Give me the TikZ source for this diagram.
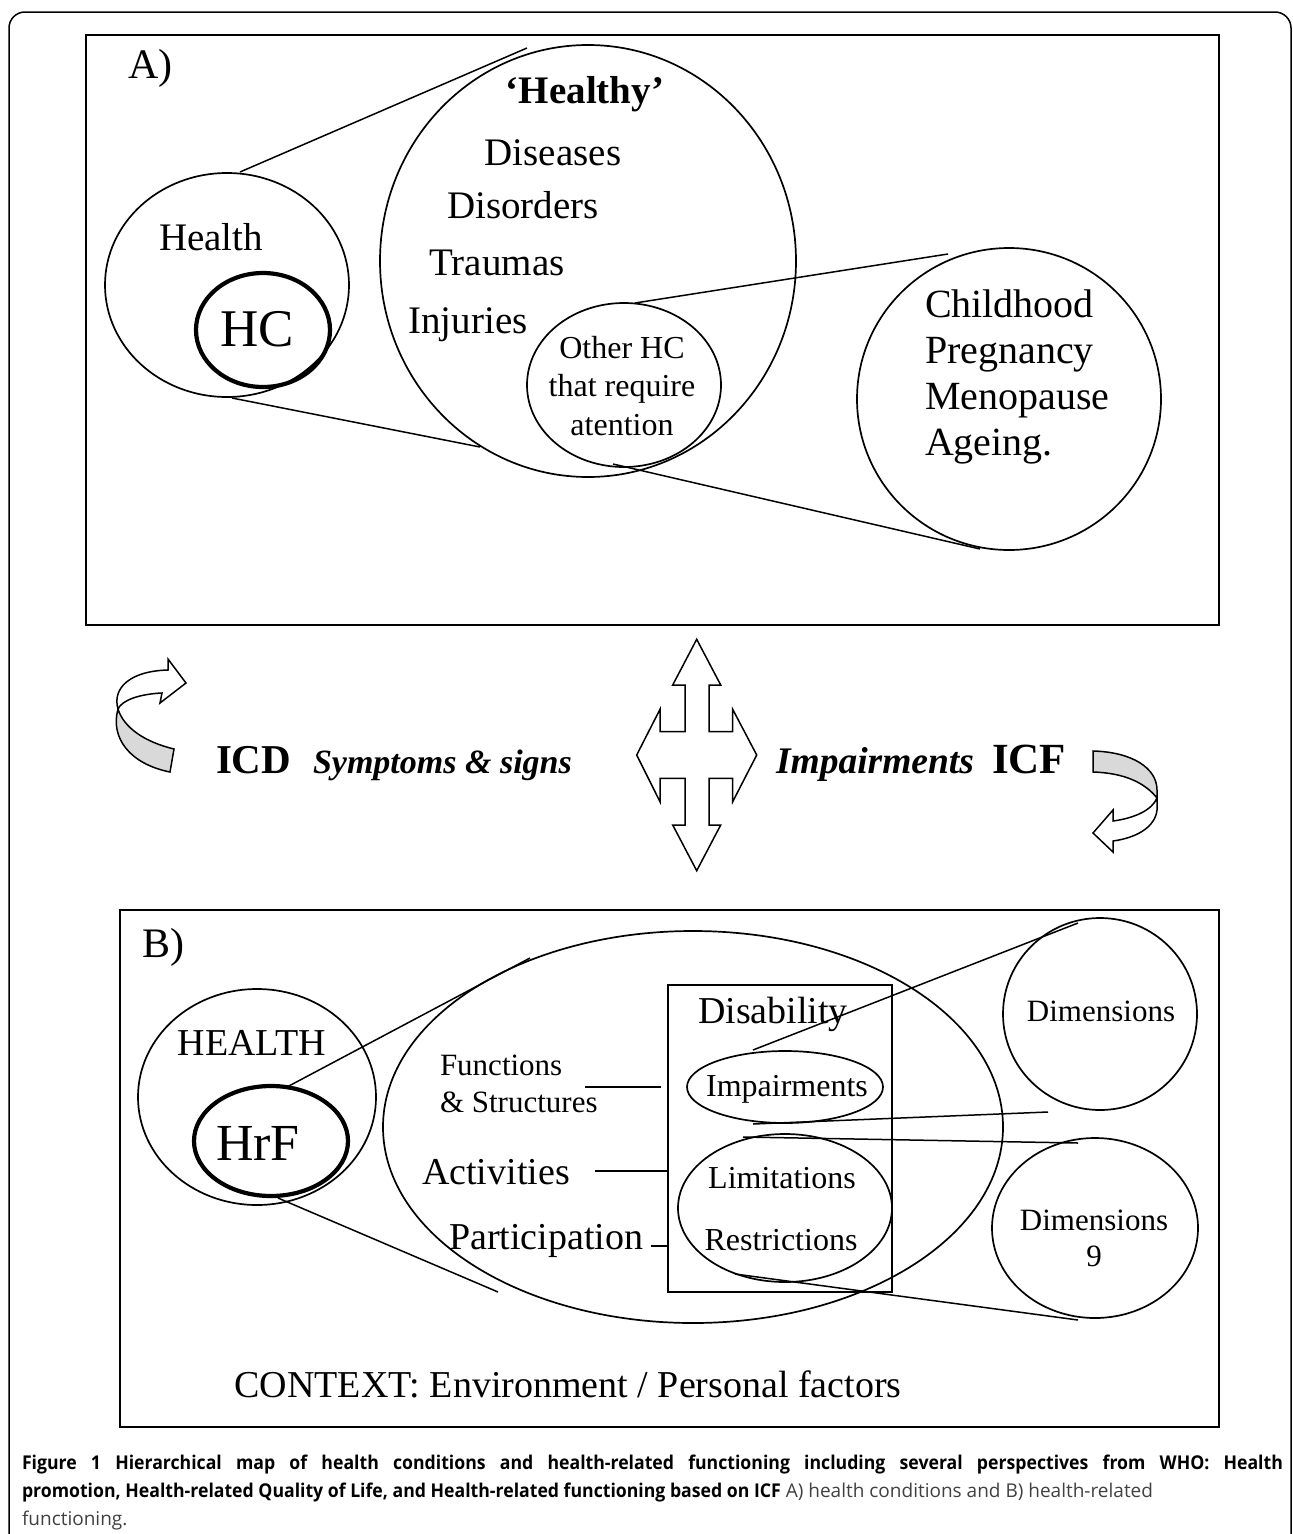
\documentclass[tikz,border=0pt]{standalone}
\usepackage{fontspec}
\setmainfont{Liberation Serif}
\newfontfamily\capfont[BoldFeatures={FakeStretch=0.93}]{Open Sans}
\usetikzlibrary{shapes.geometric}
\newcommand{\fs}[1]{\fontsize{#1}{#1}\selectfont}
\tikzset{
  txt/.style={inner sep=0pt, outer sep=0pt, anchor=base},
  txtl/.style={inner sep=0pt, outer sep=0pt, anchor=base west},
  ring/.style={draw, ellipse, inner sep=0pt, outer sep=0pt, line width=1.7pt},
  thickring/.style={ring, line width=4.2pt},
  conn/.style={line width=1.5pt},
  panel/.style={draw, line width=2.6pt},
  arrowpart/.style={draw, line width=1.5pt, line join=miter},
  capline/.style={txtl, font=\capfont\fontsize{19}{19}\selectfont},
}
\begin{document}
\begin{tikzpicture}[x=1pt, y=-1pt]
\useasboundingbox (0,0) rectangle (1293,1534);
% outer frame
\begin{scope}
\clip (0,0) rectangle (1293,1534);
\draw[line width=1.5pt, rounded corners=16pt] (9,1560) -- (9,12) -- (1291,12) -- (1291,1560);
\end{scope}

% ===== Panel A =====
\draw[panel] (86,35) rectangle (1219,625);
\node[txtl, font=\fs{42}] (labA) at (128,78) {A)};

\node[ring, minimum width=244pt, minimum height=224pt] (health) at (227,285) {};
\node[thickring, minimum width=134pt, minimum height=114pt] (hc) at (263,330) {};
\node[ring, minimum width=416pt, minimum height=432pt] (healthy) at (588,261) {};
\node[ring, minimum width=194pt, minimum height=164pt] (other) at (624,385) {};
\node[ring, minimum width=304pt, minimum height=302pt] (life) at (1009,399) {};

\node[txt, font=\fs{39}] (thealth) at (211,250) {Health};
\node[txt, font=\fs{53}] (thc) at (257,346) {HC};
\node[txt, font=\fs{39}\bfseries] (thealthy) at (585,103) {‘Healthy’};
\node[txt, font=\fs{39}] (tdis) at (553,165) {Diseases};
\node[txt, font=\fs{39}] (tdisord) at (523,218) {Disorders};
\node[txt, font=\fs{39}] (ttrau) at (497,275) {Traumas};
\node[txt, font=\fs{39}] (tinj) at (468,333) {Injuries};
\node[txt, font=\fs{32}] (toth1) at (622,358) {Other HC};
\node[txt, font=\fs{32}] (toth2) at (622,396) {that require};
\node[txt, font=\fs{32}] (toth3) at (622,435) {atention};
\node[txtl, font=\fs{40}] (tch) at (925,317) {Childhood};
\node[txtl, font=\fs{40}] (tpr) at (925,363) {Pregnancy};
\node[txtl, font=\fs{40}] (tme) at (925,409) {Menopause};
\node[txtl, font=\fs{40}] (tag) at (925,455) {Ageing.};

\coordinate (a1s) at (240,172);
\coordinate (a1e) at (527,48);
\coordinate (a2s) at (232,398);
\coordinate (a2e) at (480,447);
\coordinate (a3s) at (635,303);
\coordinate (a3e) at (948,254);
\coordinate (a4s) at (613,464);
\coordinate (a4e) at (980,549);
\draw[conn] (a1s) -- (a1e);
\draw[conn] (a2s) -- (a2e);
\draw[conn] (a3s) -- (a3e);
\draw[conn] (a4s) -- (a4e);

% ===== Middle =====
% left curved arrow
\draw[arrowpart, fill=black!15] (118,709) .. controls (110,738) and (130,764) .. (170,772) -- (174,749) .. controls (145,742) and (124,728) .. (118,709) -- cycle;
\draw[arrowpart, fill=white] (118,709) .. controls (112,688) and (130,671) .. (168,670) -- (168,659) -- (186,683) -- (160,703) -- (162,693) .. controls (140,694) and (122,700) .. (118,709) -- cycle;
% right curved arrow
\draw[arrowpart, fill=black!15] (1093,751) .. controls (1132,752) and (1157,768) .. (1157,790) -- (1157,798) .. controls (1145,783) and (1125,773) .. (1093,772) -- cycle;
\draw[arrowpart, fill=white] (1157,798) -- (1157,810) .. controls (1155,828) and (1135,838) .. (1113,841) -- (1113,852) -- (1093,833) -- (1113,810) -- (1113,821) .. controls (1135,818) and (1152,810) .. (1157,798) -- cycle;
% four-way arrow
\draw[arrowpart, fill=white] (696.7,639.3) -- (720.7,685) -- (709,685) -- (709,731.7) -- (732.7,731.7) -- (732.7,709.3) -- (756.7,755) -- (732.7,801.7) -- (732.7,778.3) -- (709,778.3) -- (709,825) -- (720.7,825) -- (696.7,870.7) -- (672.7,825) -- (685,825) -- (685,778.3) -- (660,778.3) -- (660,801.7) -- (636.7,755) -- (660,709.3) -- (660,731.7) -- (685,731.7) -- (685,685) -- (672.7,685) -- cycle;

\node[txtl, font=\fs{41}\bfseries] (icd) at (216,773) {ICD};
\node[txtl, font=\fs{34}\bfseries\itshape] (sym) at (313,773) {Symptoms \& signs};
\node[txtl, font=\fs{37.5}\bfseries\itshape] (imps) at (776,773) {Impairments};
\node[txtl, font=\fs{43}\bfseries] (icf) at (992,773) {ICF};

% ===== Panel B =====
\draw[panel] (120,910) rectangle (1219,1427);
\node[txtl, font=\fs{42}] (labB) at (142,957) {B)};

\node[ring, minimum width=238pt, minimum height=216pt] (healthB) at (257,1097) {};
\node[thickring, minimum width=154pt, minimum height=110pt] (hrf) at (271,1141) {};
\node[ring, minimum width=620pt, minimum height=392pt] (big) at (693,1127) {};
\node[draw, line width=1.7pt, inner sep=0pt, minimum width=224pt, minimum height=307pt] (disab) at (780,1138.5) {};
\node[ring, minimum width=196pt, minimum height=72pt] (imp) at (785,1087) {};
\node[ring, minimum width=214pt, minimum height=148pt] (lim) at (785,1208) {};
\node[ring, minimum width=194pt, minimum height=192pt] (dim1) at (1100,1014) {};
\node[ring, minimum width=206pt, minimum height=180pt] (dim2) at (1095,1228) {};

\node[txt, font=\fs{38}] (thB) at (252,1055) {HEALTH};
\node[txt, font=\fs{52}] (thrf) at (258,1160) {HrF};
\node[txtl, font=\fs{31}] (tfun1) at (440,1075) {Functions};
\node[txtl, font=\fs{31}] (tfun2) at (440,1112) {\& Structures};
\node[txtl, font=\fs{38}] (tact) at (422,1184) {Activities};
\node[txtl, font=\fs{38}] (tpar) at (449,1249) {Participation};
\node[txtl, font=\fs{38}] (tdisab) at (698,1023) {Disability};
\node[txt, font=\fs{32}] (timp) at (787,1096) {Impairments};
\node[txt, font=\fs{32}] (tlim) at (782,1188) {Limitations};
\node[txt, font=\fs{32}] (tres) at (781,1250) {Restrictions};
\node[txt, font=\fs{31}] (tdim1) at (1101,1021) {Dimensions};
\node[txt, font=\fs{31}] (tdim2) at (1094,1230) {Dimensions};
\node[txt, font=\fs{31}] (tnine) at (1094,1266) {9};
\node[txt, font=\fs{38}] (tctx) at (568,1397) {CONTEXT: Environment / Personal factors};

\coordinate (b1s) at (287,1087);
\coordinate (b1e) at (530,958);
\coordinate (b2s) at (278,1198);
\coordinate (b2e) at (498,1292);
\coordinate (bfs) at (585,1087);
\coordinate (bfe) at (661,1087);
\coordinate (bas) at (595,1171);
\coordinate (bps) at (651,1246);
\coordinate (c1s) at (753,1050);
\coordinate (c1e) at (1078,923);
\coordinate (c2s) at (753,1124);
\coordinate (c2e) at (1048,1112);
\coordinate (c3s) at (743,1137);
\coordinate (c3e) at (1078,1143);
\coordinate (c4s) at (735,1274);
\coordinate (c4e) at (1078,1320);
\draw[conn] (b1s) -- (b1e);
\draw[conn] (b2s) -- (b2e);
\draw[conn] (bfs) -- (bfe);
\draw[conn] (bas) -- (bas -| disab.west);
\draw[conn] (bps) -- (bps -| disab.west);
\draw[conn] (c1s) -- (c1e);
\draw[conn] (c2s) -- (c2e);
\draw[conn] (c3s) -- (c3e);
\draw[conn] (c4s) -- (c4e);

% ===== Caption =====
\node[capline] (cap1) at (22,1469) {\makebox[1261pt][s]{\bfseries Figure 1 Hierarchical map of health conditions and health-related functioning including several perspectives from WHO: Health}};
\node[capline] (cap2) at (22,1497) {{\bfseries promotion, Health-related Quality of Life, and Health-related functioning based on ICF} {\color{black!75}A) health conditions and B) health-related}};
\node[capline, text=black!75] (cap3) at (22,1525) {functioning.};
\end{tikzpicture}
\end{document}
